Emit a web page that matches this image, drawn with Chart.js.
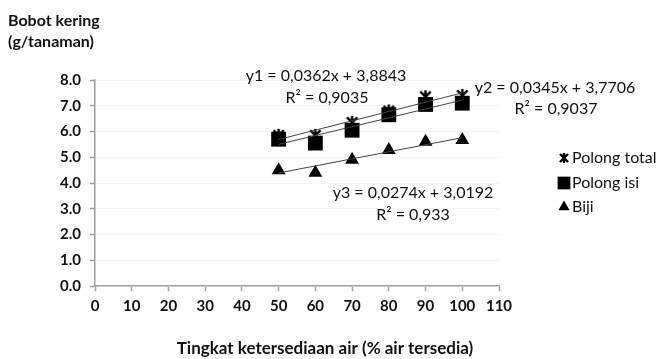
<!DOCTYPE html>
<html><head><meta charset="utf-8">
<script src="https://cdn.jsdelivr.net/npm/chart.js@4/dist/chart.umd.min.js"></script>
<style>html,body{margin:0;padding:0;background:#fff;}#wrap{width:664px;height:359px;position:relative;}</style>
</head><body><div id="wrap"><canvas id="c" width="664" height="359"></canvas></div>
<script>
const xValues = [50, 60, 70, 80, 90, 100];
const polongTotal = [5.85, 5.85, 6.35, 6.8, 7.35, 7.4];
const polongIsi = [5.7, 5.55, 6.05, 6.65, 7.05, 7.1];
const biji = [4.5, 4.4, 4.9, 5.28, 5.6, 5.67];
const trendX = [50, 100];
const trend1 = [5.69, 7.50];
const trend2 = [5.50, 7.22];
const trend3 = [4.39, 5.76];
const seriesNames = ['Polong total', 'Polong isi', 'Biji'];
const equations = [
  ['y1 = 0,0362x + 3,8843', 'R² = 0,9035'],
  ['y2 = 0,0345x + 3,7706', 'R² = 0,9037'],
  ['y3 = 0,0274x + 3,0192', 'R² = 0,933']
];
const yTitle = ['Bobot kering', '(g/tanaman)'];
const xTitle = 'Tingkat ketersediaan air (% air tersedia)';

const FONT = 'Lato, "Open Sans", sans-serif';
const pts = (ys) => xValues.map((x, i) => ({x, y: ys[i]}));
const tpts = (ys) => trendX.map((x, i) => ({x, y: ys[i]}));

function asterisk(size, lw) {
  const c = document.createElement('canvas');
  c.width = size; c.height = size;
  const g = c.getContext('2d');
  g.strokeStyle = '#000'; g.lineWidth = lw; g.lineCap = 'butt';
  const m = size / 2, r = size / 2 - 1;
  g.beginPath();
  g.moveTo(m, m - r); g.lineTo(m, m + r);
  const d = r * 0.8;
  g.moveTo(m - d, m - d); g.lineTo(m + d, m + d);
  g.moveTo(m + d, m - d); g.lineTo(m - d, m + d);
  g.stroke();
  return c;
}
const starImg = asterisk(15, 2.4);
const starLegend = asterisk(12, 2.4);

const trendStyle = {showLine: true, borderColor: '#444', borderWidth: 1, pointRadius: 0, fill: false, order: 0};
const datasets = [
  Object.assign({label: 't1', data: tpts(trend1)}, trendStyle),
  Object.assign({label: 't2', data: tpts(trend2)}, trendStyle),
  Object.assign({label: 't3', data: tpts(trend3)}, trendStyle),
  {label: seriesNames[0], data: pts(polongTotal), pointStyle: starImg, pointRadius: 7, borderColor: '#000', backgroundColor: '#000', order: 3},
  {label: seriesNames[1], data: pts(polongIsi), pointStyle: 'rect', pointRadius: 10.5, borderColor: '#000', backgroundColor: '#000', pointBorderWidth: 0, order: 2},
  {label: seriesNames[2], data: pts(biji), pointStyle: 'triangle', pointRadius: 8, borderColor: '#000', backgroundColor: '#000', pointBorderWidth: 0, order: 1}
];

const textPlugin = {
  id: 'texts',
  afterDraw(chart) {
    const ctx = chart.ctx;
    ctx.save();
    ctx.fillStyle = '#111';
    ctx.textBaseline = 'middle';
    ctx.font = 'bold 16px ' + FONT;
    ctx.textAlign = 'left';
    ctx.fillText(yTitle[0], 8, 21);
    ctx.fillText(yTitle[1], 8, 42);
    ctx.font = 'bold 17px ' + FONT;
    ctx.textAlign = 'center';
    ctx.fillText(xTitle, 325, 349);
    ctx.font = '16px ' + FONT;
    ctx.fillText(equations[0][0], 326, 76);
    ctx.fillText(equations[0][1], 327, 98);
    ctx.fillText(equations[1][0], 555, 88);
    ctx.fillText(equations[1][1], 556, 109);
    ctx.fillText(equations[2][0], 413, 193);
    ctx.fillText(equations[2][1], 413, 215);
    const ly = [158, 183, 207];
    ctx.textAlign = 'left';
    ctx.fillStyle = '#000';
    ctx.drawImage(starLegend, 558, ly[0] - 6);
    Chart.helpers.drawPoint(ctx, {pointStyle: 'rect', radius: 9, borderWidth: 0}, 564, ly[1]);
    Chart.helpers.drawPoint(ctx, {pointStyle: 'triangle', radius: 6.5, borderWidth: 0}, 564, ly[2]);
    ctx.fillStyle = '#111';
    for (let i = 0; i < 3; i++) ctx.fillText(seriesNames[i], 572, ly[i]);
    ctx.restore();
  }
};

new Chart(document.getElementById('c'), {
  type: 'scatter',
  data: {datasets},
  options: {
    responsive: false, animation: false, devicePixelRatio: 1,
    layout: {padding: {left: 0, right: 165, top: 80, bottom: 0}},
    plugins: {legend: {display: false}, tooltip: {enabled: false}},
    scales: {
      x: {
        type: 'linear', min: 0, max: 110,
        ticks: {stepSize: 10, color: '#111', font: {family: FONT, size: 15, weight: 'bold'}, padding: 6, maxRotation: 0},
        grid: {drawOnChartArea: false, color: '#a0a0a0', tickLength: 5, tickWidth: 1.5},
        border: {color: '#a0a0a0', width: 1.5},
        afterFit(s) { s.height = 73; }
      },
      y: {
        type: 'linear', min: 0, max: 8,
        ticks: {stepSize: 1, color: '#111', font: {family: FONT, size: 15, weight: 'bold'}, padding: 9, callback: v => v.toFixed(1)},
        grid: {color: '#f4f4f4', tickColor: '#a0a0a0', tickLength: 5, tickWidth: 1.5},
        border: {color: '#a0a0a0', width: 1.5},
        afterFit(s) { s.width = 95; }
      }
    }
  },
  plugins: [textPlugin]
});
</script></body></html>
